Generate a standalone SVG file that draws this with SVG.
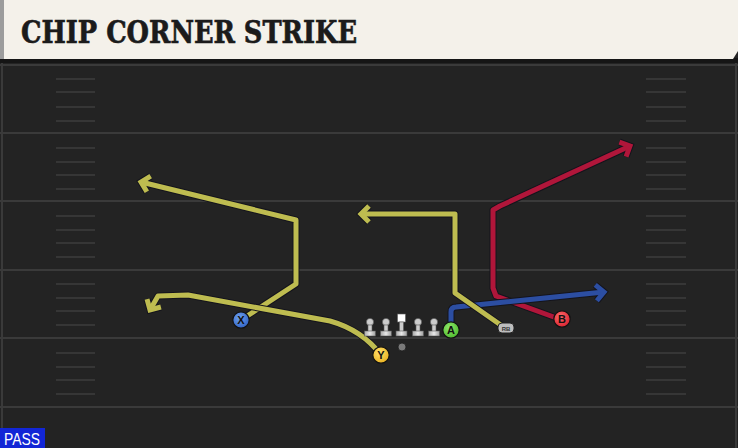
<svg xmlns="http://www.w3.org/2000/svg" width="738" height="448" viewBox="0 0 738 448">
<defs>
<style>
.yl{stroke:#3a3a3a;stroke-width:2;fill:none}
.hm{stroke:#363636;stroke-width:2;fill:none}
.ol{fill:none;stroke:#14141c;stroke-width:7;stroke-linejoin:round;stroke-linecap:butt}
.rt{fill:none;stroke-width:5;stroke-linejoin:round;stroke-linecap:butt}
.ye{stroke:#bebc50}
.rd{stroke:#b0163a}
.bl{stroke:#2c4ea2}
.pl{stroke:#121212;stroke-width:1.2}
.lt{font-family:"Liberation Sans",Arial,sans-serif;font-weight:bold;font-size:11px;fill:#111;text-anchor:middle}
.ln{fill:#cdcdcd;stroke:#5a5a5a;stroke-width:0.6}
</style>
<marker id="ao" markerUnits="userSpaceOnUse" viewBox="-14 -12 20 24" markerWidth="20" markerHeight="24" refX="0" refY="0" orient="auto" overflow="visible">
<path d="M-8,-8 L0,0 L-8,8" fill="none" stroke="#14141c" stroke-width="7" stroke-linejoin="miter"/>
</marker>
<marker id="ay" markerUnits="userSpaceOnUse" viewBox="-14 -12 20 24" markerWidth="20" markerHeight="24" refX="0" refY="0" orient="auto" overflow="visible">
<path d="M-8,-8 L0,0 L-8,8" fill="none" stroke="#bebc50" stroke-width="5" stroke-linejoin="miter"/>
</marker>
<marker id="ar" markerUnits="userSpaceOnUse" viewBox="-14 -12 20 24" markerWidth="20" markerHeight="24" refX="0" refY="0" orient="auto" overflow="visible">
<path d="M-8,-8 L0,0 L-8,8" fill="none" stroke="#b0163a" stroke-width="5" stroke-linejoin="miter"/>
</marker>
<marker id="ab" markerUnits="userSpaceOnUse" viewBox="-14 -12 20 24" markerWidth="20" markerHeight="24" refX="0" refY="0" orient="auto" overflow="visible">
<path d="M-8,-8 L0,0 L-8,8" fill="none" stroke="#2c4ea2" stroke-width="5" stroke-linejoin="miter"/>
</marker>
<radialGradient id="gx" cx="0.4" cy="0.35" r="0.7"><stop offset="0" stop-color="#6ea0ee"/><stop offset="1" stop-color="#2f62c4"/></radialGradient>
<radialGradient id="gy" cx="0.4" cy="0.35" r="0.7"><stop offset="0" stop-color="#ffe06a"/><stop offset="1" stop-color="#e8b01e"/></radialGradient>
<radialGradient id="ga" cx="0.4" cy="0.35" r="0.7"><stop offset="0" stop-color="#8ee86a"/><stop offset="1" stop-color="#4cb82c"/></radialGradient>
<radialGradient id="gb" cx="0.4" cy="0.35" r="0.7"><stop offset="0" stop-color="#ff6a6a"/><stop offset="1" stop-color="#d8202e"/></radialGradient>
<linearGradient id="gl" x1="0" y1="0" x2="1" y2="0"><stop offset="0" stop-color="#a8a8a8"/><stop offset="0.5" stop-color="#e8e8e8"/><stop offset="1" stop-color="#a0a0a0"/></linearGradient>
</defs>

<!-- field -->
<rect x="0" y="0" width="738" height="448" fill="#232323"/>
<line x1="2" y1="60" x2="2" y2="448" stroke="#3a3a3a" stroke-width="2"/>
<line x1="736" y1="60" x2="736" y2="448" stroke="#3a3a3a" stroke-width="2"/>
<g id="yardlines">
<line class="yl" x1="0" y1="65" x2="738" y2="65"/>
<line class="yl" x1="0" y1="133" x2="738" y2="133"/>
<line class="yl" x1="0" y1="201" x2="738" y2="201"/>
<line class="yl" x1="0" y1="270" x2="738" y2="270"/>
<line class="yl" x1="0" y1="338" x2="738" y2="338"/>
<line class="yl" x1="0" y1="407" x2="738" y2="407"/>
</g>
<g id="hashes">
<path class="hm" d="M56,79H95M56,92H95M56,107H95M56,121H95 M56,148H95M56,162H95M56,175H95M56,189H95 M56,216H95M56,230H95M56,243H95M56,257H95 M56,284H95M56,298H95M56,311H95M56,325H95 M56,353H95M56,367H95M56,380H95M56,394H95"/>
<path class="hm" d="M646,79H686M646,92H686M646,107H686M646,121H686 M646,148H686M646,162H686M646,175H686M646,189H686 M646,216H686M646,230H686M646,243H686M646,257H686 M646,284H686M646,298H686M646,311H686M646,325H686 M646,353H686M646,367H686M646,380H686M646,394H686"/>
</g>

<!-- header -->
<g id="header">
<rect x="0" y="58" width="738" height="5" fill="#151515"/>
<rect x="0" y="0" width="4" height="59" fill="#9c9c9c"/>
<path d="M4,0 H738 V51 L733,59 H4 Z" fill="#f4f1ea"/>
<text x="21" y="43" font-family="'DejaVu Serif Condensed','DejaVu Serif',serif" font-stretch="condensed" font-weight="bold" font-size="31" textLength="336" lengthAdjust="spacingAndGlyphs" fill="#1b1b1b" stroke="#1b1b1b" stroke-width="0.6">CHIP CORNER STRIKE</text>
</g>

<!-- connectors -->
<g id="connectors">
<g id="route-x">
<path class="ol" d="M241,320 L296,284 L296,220 L141,182" marker-end="url(#ao)"/>
<path class="rt ye" d="M241,320 L296,284 L296,220 L141,182" marker-end="url(#ay)"/>
</g>
<g id="route-y">
<path class="ol" d="M381,355 Q362,330 330,321 L188,295 L158,296 L150,310" marker-end="url(#ao)"/>
<path class="rt ye" d="M381,355 Q362,330 330,321 L188,295 L158,296 L150,310" marker-end="url(#ay)"/>
</g>
<g id="route-b">
<path class="ol" d="M562,320 L496,296 L493,288 L493,210 L500,206 L630,146" marker-end="url(#ao)"/>
<path class="rt rd" d="M562,320 L496,296 L493,288 L493,210 L500,206 L630,146" marker-end="url(#ar)"/>
</g>
<g id="route-a">
<path class="ol" d="M451,325 L451,312 Q451,307 456,307 L604,292" marker-end="url(#ao)"/>
<path class="rt bl" d="M451,325 L451,312 Q451,307 456,307 L604,292" marker-end="url(#ab)"/>
</g>
<g id="route-rb">
<path class="ol" d="M505,328 L455,293 L455,214 L361,214" marker-end="url(#ao)"/>
<path class="rt ye" d="M505,328 L455,293 L455,214 L361,214" marker-end="url(#ay)"/>
</g>
</g>

<!-- linemen -->
<g id="lt1"><circle class="ln" cx="370" cy="322" r="3.6"/><rect class="ln" x="368" y="325" width="4" height="7"/><rect x="364.5" y="331" width="11" height="5" fill="url(#gl)" stroke="#5a5a5a" stroke-width="0.6"/></g>
<g id="lt2"><circle class="ln" cx="386" cy="322" r="3.6"/><rect class="ln" x="384" y="325" width="4" height="7"/><rect x="380.5" y="331" width="11" height="5" fill="url(#gl)" stroke="#5a5a5a" stroke-width="0.6"/></g>
<g id="center"><rect x="397.5" y="314" width="8" height="8" fill="#ffffff" stroke="#5a5a5a" stroke-width="0.6"/><rect class="ln" x="399.5" y="322" width="4" height="10"/><rect x="396" y="331" width="11" height="5" fill="url(#gl)" stroke="#5a5a5a" stroke-width="0.6"/></g>
<g id="lt4"><circle class="ln" cx="418" cy="322" r="3.6"/><rect class="ln" x="416" y="325" width="4" height="7"/><rect x="412.5" y="331" width="11" height="5" fill="url(#gl)" stroke="#5a5a5a" stroke-width="0.6"/></g>
<g id="lt5"><circle class="ln" cx="434" cy="322" r="3.6"/><rect class="ln" x="432" y="325" width="4" height="7"/><rect x="428.5" y="331" width="11" height="5" fill="url(#gl)" stroke="#5a5a5a" stroke-width="0.6"/></g>

<!-- players -->
<g id="qb"><circle cx="402" cy="347" r="4" fill="#7a7a7a" stroke="#1a1a1a" stroke-width="0.8"/></g>
<g id="rb"><rect x="498" y="323" width="16" height="10" rx="4" fill="#bdbdbd" stroke="#222" stroke-width="1"/><text x="506" y="330.5" font-family="'Liberation Sans',Arial,sans-serif" font-weight="bold" font-size="6" fill="#333" text-anchor="middle">RB</text></g>
<g id="player-x"><circle class="pl" cx="241" cy="320" r="8.2" fill="url(#gx)"/><text class="lt" x="241" y="324">X</text></g>
<g id="player-y"><circle class="pl" cx="381" cy="355" r="8.2" fill="url(#gy)"/><text class="lt" x="381" y="359">Y</text></g>
<g id="player-a"><circle class="pl" cx="451" cy="330" r="8.2" fill="url(#ga)"/><text class="lt" x="451" y="334">A</text></g>
<g id="player-b"><circle class="pl" cx="562" cy="319" r="8.2" fill="url(#gb)"/><text class="lt" x="562" y="323">B</text></g>

<!-- pass label -->
<g id="pass">
<rect x="0" y="428" width="45" height="20" fill="#1226d6"/>
<text x="4" y="444.5" font-family="'Liberation Sans',Arial,sans-serif" font-size="16" textLength="36" lengthAdjust="spacingAndGlyphs" fill="#ffffff">PASS</text>
</g>
</svg>
